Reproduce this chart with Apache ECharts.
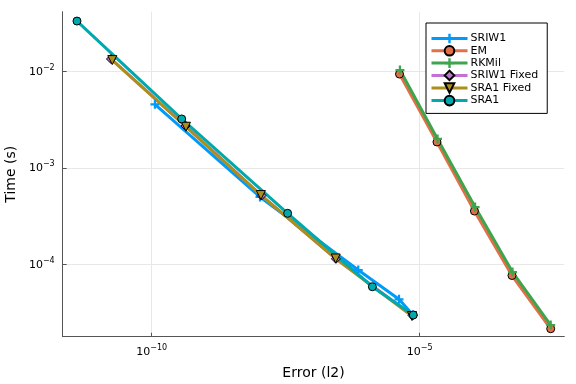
<!DOCTYPE html>
<html>
<head>
<meta charset="utf-8">
<script src="https://cdn.jsdelivr.net/npm/echarts@6/dist/echarts.min.js"></script>
<style>html,body{margin:0;padding:0;background:#fff}#c{width:576px;height:384px}</style>
</head>
<body>
<div id="c"></div>
<script>
const seriesNames = ['SRIW1', 'EM', 'RKMil', 'SRIW1 Fixed', 'SRA1 Fixed', 'SRA1'];
const sriw1X = [1.15e-10, 1.05e-8, 7.14e-7, 4.11e-6, 7.5e-6];
const sriw1Y = [4.59e-3, 5.04e-4, 8.81e-5, 4.38e-5, 3.01e-5];
const emX = [4.2e-6, 2.1e-5, 1.05e-4, 5.27e-4, 2.78e-3];
const emY = [9.46e-3, 1.87e-3, 3.6e-4, 7.73e-5, 2.17e-5];
const rkmilX = [4.28e-6, 2.15e-5, 1.08e-4, 5.39e-4, 2.78e-3];
const rkmilY = [1.04e-2, 2.01e-3, 3.96e-4, 8.4e-5, 2.37e-5];
const sriw1FixedX = [1.74e-11, 4.28e-10, 1.12e-8, 2.74e-7, 7.35e-6];
const sriw1FixedY = [1.355e-2, 2.74e-3, 5.21e-4, 1.15e-4, 2.98e-5];
const sra1FixedX = [1.84e-11, 4.36e-10, 1.09e-8, 2.71e-7, 7.18e-6];
const sra1FixedY = [1.32e-2, 2.69e-3, 5.27e-4, 1.16e-4, 2.94e-5];
const sra1X = [4.04e-12, 3.63e-10, 3.44e-8, 1.31e-6, 7.6e-6];
const sra1Y = [3.35e-2, 3.24e-3, 3.41e-4, 5.91e-5, 3.01e-5];
const xTicks = [1e-10, 1e-5];
const yTicks = [1e-4, 1e-3, 1e-2];

const L = v => Math.log10(v);
const pts = (xs, ys) => xs.map((x, i) => [L(x), L(ys[i])]);
const plusPath = 'path://M3,0H5V3H8V5H5V8H3V5H0V3H3Z';
const triPath = 'path://M0,0L10,0L5,9Z';
const fmt = v => '{b|10}{s|' + String(Math.round(v)).replace('-', '\u2212') + '}';
const FONT = 'DejaVu Sans';
const rich = { b: { fontSize: 11, fontFamily: FONT, color: '#000' }, s: { fontSize: 8, fontFamily: FONT, color: '#000', padding: [0, 0, 8, 0] } };

function mk(name, xs, ys, color, symbol, size, border) {
  return {
    name, type: 'line', data: pts(xs, ys), color,
    symbol, symbolSize: size, showAllSymbol: true,
    lineStyle: { width: 3, color },
    itemStyle: { color, borderColor: border ? '#000' : color, borderWidth: border ? 1 : 0 },
    emphasis: { disabled: true }, z: 2
  };
}

const chart = echarts.init(document.getElementById('c'), null, { renderer: 'canvas' });
chart.setOption({
  animation: false,
  backgroundColor: '#fff',
  textStyle: { fontFamily: FONT },
  grid: { left: 62.7, right: 11.7, top: 11.7, bottom: 47.3, containLabel: false, outerBoundsMode: 'none' },
  xAxis: {
    type: 'value', min: -11.66, max: -2.302,
    name: 'Error (l2)', nameLocation: 'middle', nameGap: 30,
    nameTextStyle: { fontSize: 14, fontFamily: FONT, color: '#000' },
    axisLine: { show: true, onZero: false, lineStyle: { color: '#555', width: 1 } },
    axisTick: { show: true, inside: true, length: 4, customValues: xTicks.map(L), lineStyle: { color: '#555' } },
    axisLabel: { customValues: xTicks.map(L), formatter: fmt, rich, margin: 7 },
    splitLine: { show: true, lineStyle: { color: '#e8e8e8', width: 1 } }
  },
  yAxis: {
    type: 'value', min: -4.746, max: -1.378,
    name: 'Time (s)', nameLocation: 'middle', nameGap: 41, nameRotate: 90,
    nameTextStyle: { fontSize: 14, fontFamily: FONT, color: '#000' },
    axisLine: { show: true, onZero: false, lineStyle: { color: '#555', width: 1 } },
    axisTick: { show: true, inside: true, length: 4, customValues: yTicks.map(L), lineStyle: { color: '#555' } },
    axisLabel: { customValues: yTicks.map(L), formatter: fmt, rich, margin: 8 },
    splitLine: { show: true, lineStyle: { color: '#e8e8e8', width: 1 } }
  },
  legend: {
    orient: 'vertical', left: 426, top: 23,
    padding: [10, 9, 7, 4], itemGap: 1, itemWidth: 36, itemHeight: 12,
    backgroundColor: '#fff', borderColor: '#000', borderWidth: 1, borderRadius: 0,
    lineStyle: { width: 3 },
    textStyle: { fontSize: 11, fontFamily: FONT, color: '#000', lineHeight: 11, padding: [0, 0, 0, -2] },
    data: seriesNames
  },
  series: [
    mk(seriesNames[0], sriw1X, sriw1Y, '#009AFA', plusPath, 9, false),
    mk(seriesNames[1], emX, emY, '#E36F47', 'circle', 8, true),
    mk(seriesNames[2], rkmilX, rkmilY, '#3EA44E', plusPath, 9, false),
    mk(seriesNames[3], sriw1FixedX, sriw1FixedY, '#C271D2', 'diamond', 9, true),
    mk(seriesNames[4], sra1FixedX, sra1FixedY, '#AC8E18', triPath, 9, true),
    mk(seriesNames[5], sra1X, sra1Y, '#00A9AD', 'circle', 8, true)
  ]
});
</script>
</body>
</html>
